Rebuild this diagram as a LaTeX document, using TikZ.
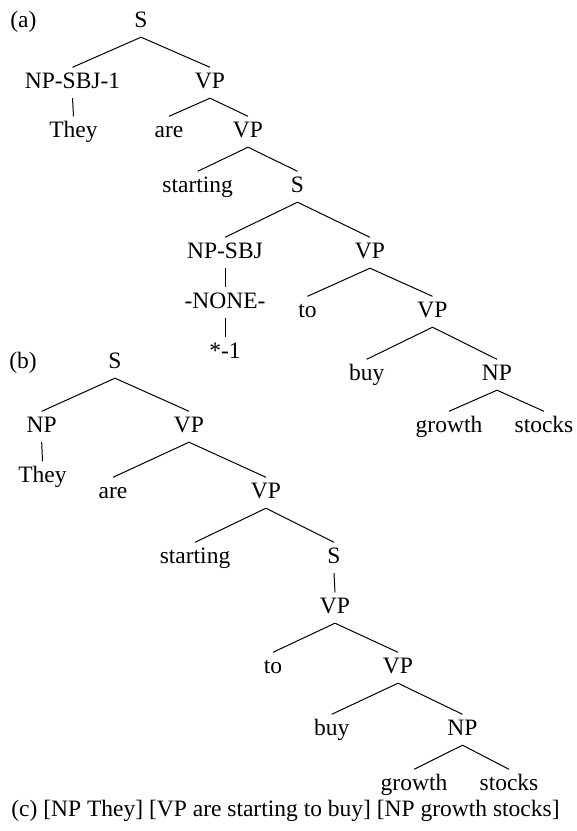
\documentclass[tikz,border=0pt]{standalone}
\usepackage{fontspec}
\setmainfont{Liberation Serif}
\usepackage{tikz}

\begin{document}
\begin{tikzpicture}[x=0.5pt,y=-0.5pt,
    lbl/.style={anchor=base,inner xsep=1pt,inner ysep=2.4pt,text height=7.75pt,text depth=2.5pt,
                font=\fontsize{11.75pt}{14pt}\selectfont},
    tag/.style={anchor=base west,inner sep=0pt,font=\fontsize{11.75pt}{14pt}\selectfont},
    br/.style={line width=0.5pt}]
    \useasboundingbox (0,0) rectangle (577,831);
    % (a)
    \node[tag] (ta) at (10,27) {(a)};
    \node[lbl] (aS) at (141,27) {S};
    \node[lbl] (aNPi) at (72.5,88) {NP-SBJ-1};
    \node[lbl] (aVPi) at (210,88) {VP};
    \node[lbl] (aThey) at (73.5,137) {They};
    \node[lbl] (aAre) at (169,137) {are};
    \node[lbl] (aVPii) at (248,137) {VP};
    \node[lbl] (aStart) at (197.7,192) {starting};
    \node[lbl] (aSi) at (297.5,192) {S};
    \node[lbl] (aNPsbj) at (225,258) {NP-SBJ};
    \node[lbl] (aVPiii) at (370,258) {VP};
    \node[lbl] (aNone) at (225,308) {-NONE-};
    \node[lbl] (aTrace) at (225,358) {*-1};
    \node[lbl] (aTo) at (307.5,317) {to};
    \node[lbl] (aVPiv) at (432.5,317) {VP};
    \node[lbl] (aBuy) at (366.7,380) {buy};
    \node[lbl] (aNP) at (497,380) {NP};
    \node[lbl] (aGrowth) at (449,432) {growth};
    \node[lbl] (aStocks) at (544,432) {stocks};
    \draw[br] (aNPi.north) -- (aS.south) -- (aVPi.north);
    \draw[br] (aNPi.south) -- (aThey.north);
    \draw[br] (aAre.north) -- (aVPi.south) -- (aVPii.north);
    \draw[br] (aStart.north) -- (aVPii.south) -- (aSi.north);
    \draw[br] (aNPsbj.north) -- (aSi.south) -- (aVPiii.north);
    \draw[br] (aNPsbj.south) -- (aNone.north);
    \draw[br] (aNone.south) -- (aTrace.north);
    \draw[br] (aTo.north) -- (aVPiii.south) -- (aVPiv.north);
    \draw[br] (aBuy.north) -- (aVPiv.south) -- (aNP.north);
    \draw[br] (aGrowth.north) -- (aNP.south) -- (aStocks.north);
    % (b)
    \node[tag] (tb) at (9,368) {(b)};
    \node[lbl] (bS) at (115,368) {S};
    \node[lbl] (bNPi) at (41.7,432) {NP};
    \node[lbl] (bVPi) at (189,432) {VP};
    \node[lbl] (bThey) at (42.5,482) {They};
    \node[lbl] (bAre) at (113,498) {are};
    \node[lbl] (bVPii) at (266,498) {VP};
    \node[lbl] (bStart) at (195,563) {starting};
    \node[lbl] (bSi) at (334,563) {S};
    \node[lbl] (bVPiii) at (335,613) {VP};
    \node[lbl] (bTo) at (273,673) {to};
    \node[lbl] (bVPiv) at (398,673) {VP};
    \node[lbl] (bBuy) at (331.7,735) {buy};
    \node[lbl] (bNP) at (462.5,735) {NP};
    \node[lbl] (bGrowth) at (414,790) {growth};
    \node[lbl] (bStocks) at (509,790) {stocks};
    \draw[br] (bNPi.north) -- (bS.south) -- (bVPi.north);
    \draw[br] (bNPi.south) -- (bThey.north);
    \draw[br] (bAre.north) -- (bVPi.south) -- (bVPii.north);
    \draw[br] (bStart.north) -- (bVPii.south) -- (bSi.north);
    \draw[br] (bSi.south) -- (bVPiii.north);
    \draw[br] (bTo.north) -- (bVPiii.south) -- (bVPiv.north);
    \draw[br] (bBuy.north) -- (bVPiv.south) -- (bNP.north);
    \draw[br] (bGrowth.north) -- (bNP.south) -- (bStocks.north);
    % (c)
    \node[tag] (tc) at (11,816) {(c) [NP They] [VP are starting to buy] [NP growth stocks]};
\end{tikzpicture}
\end{document}
